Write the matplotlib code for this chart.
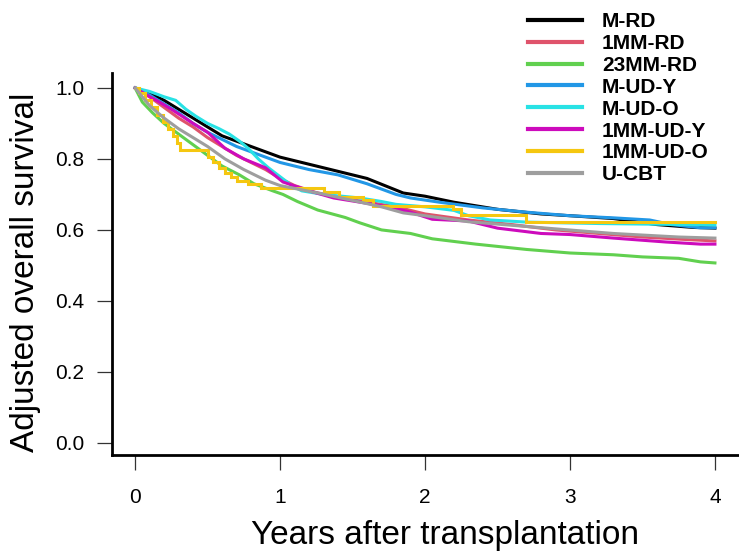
import matplotlib
matplotlib.use("Agg")

import matplotlib.pyplot as plt

# ── Data ───────────────────────────────────────────────────────────────────
groups = ["M-RD", "1MM-RD", "23MM-RD", "M-UD-Y", "M-UD-O",
          "1MM-UD-Y", "1MM-UD-O", "U-CBT"]
colors = ["#000000", "#DF536B", "#61D04F", "#2297E6", "#28E2E5",
          "#CD0BBC", "#F5C710", "#9E9E9E"]

t_mrd = [0, 0.1, 0.2, 0.3, 0.4, 0.5, 0.6, 0.7, 0.8, 0.9, 1.0, 1.2, 1.4, 1.6,
         1.85, 2.0, 2.2, 2.5, 2.8, 3.0, 3.3, 3.6, 3.85, 4.0]
s_mrd = [1.0, 0.985, 0.965, 0.94, 0.915, 0.89, 0.865, 0.85, 0.835, 0.82, 0.805,
         0.785, 0.765, 0.745, 0.704, 0.695, 0.678, 0.658, 0.645, 0.64, 0.632,
         0.615, 0.607, 0.605]

t_1mmrd = [0, 0.1, 0.2, 0.3, 0.4, 0.5, 0.6, 0.7, 0.8, 0.9, 1.0, 1.1, 1.25,
           1.5, 1.8, 2.0, 2.3, 2.6, 2.9, 3.2, 3.5, 3.8, 4.0]
s_1mmrd = [1.0, 0.975, 0.945, 0.915, 0.89, 0.86, 0.835, 0.81, 0.79, 0.77,
           0.745, 0.725, 0.705, 0.685, 0.665, 0.645, 0.628, 0.615, 0.60, 0.59,
           0.58, 0.573, 0.569]

t_23mm = [0, 0.05, 0.12, 0.2, 0.3, 0.4, 0.5, 0.6, 0.72, 0.82, 0.95, 1.02,
          1.12, 1.26, 1.45, 1.55, 1.7, 1.9, 2.05, 2.35, 2.7, 3.0, 3.3, 3.5,
          3.75, 3.9, 4.0]
s_23mm = [1.0, 0.96, 0.93, 0.9, 0.87, 0.84, 0.81, 0.78, 0.755, 0.73, 0.71,
          0.70, 0.68, 0.656, 0.635, 0.62, 0.60, 0.59, 0.575, 0.56, 0.545,
          0.535, 0.53, 0.524, 0.52, 0.51, 0.507]

t_mudy = [0, 0.1, 0.2, 0.3, 0.4, 0.5, 0.6, 0.7, 0.8, 0.9, 1.0, 1.2, 1.4, 1.6,
          1.8, 1.9, 2.1, 2.4, 2.7, 3.0, 3.3, 3.55, 3.7, 3.9, 4.0]
s_mudy = [1.0, 0.98, 0.955, 0.93, 0.9, 0.875, 0.855, 0.835, 0.82, 0.805, 0.79,
          0.77, 0.755, 0.73, 0.70, 0.69, 0.678, 0.662, 0.65, 0.64, 0.634,
          0.628, 0.615, 0.606, 0.606]

t_mudo = [0, 0.05, 0.1, 0.2, 0.28, 0.35, 0.42, 0.5, 0.58, 0.65, 0.72, 0.78,
          0.85, 0.92, 1.0, 1.08, 1.15, 1.3, 1.55, 1.7, 1.8, 2.0, 2.2, 2.3,
          2.45, 2.7, 3.2, 3.6, 4.0]
s_mudo = [1.0, 0.995, 0.99, 0.975, 0.965, 0.94, 0.92, 0.9, 0.885, 0.87, 0.85,
          0.83, 0.80, 0.775, 0.75, 0.725, 0.71, 0.70, 0.69, 0.68, 0.672, 0.665,
          0.655, 0.64, 0.628, 0.622, 0.618, 0.616, 0.614]

t_1mmudy = [0, 0.08, 0.16, 0.25, 0.4, 0.5, 0.62, 0.75, 0.9, 1.02, 1.2, 1.37,
            1.6, 1.78, 1.9, 2.05, 2.3, 2.5, 2.8, 3.0, 3.3, 3.66, 3.9, 4.0]
s_1mmudy = [1.0, 0.98, 0.962, 0.94, 0.9, 0.875, 0.83, 0.80, 0.775, 0.735,
            0.71, 0.69, 0.675, 0.662, 0.65, 0.63, 0.625, 0.605, 0.59, 0.587,
            0.577, 0.566, 0.56, 0.56]

t_1mmudo = [0, 0.03, 0.07, 0.11, 0.15, 0.19, 0.23, 0.26, 0.29, 0.31, 0.5,
            0.54, 0.58, 0.62, 0.66, 0.7, 0.78, 0.87, 1.3, 1.41, 1.57, 1.64,
            2.19, 2.25, 2.7, 4.0]
s_1mmudo = [1.0, 0.985, 0.965, 0.945, 0.925, 0.905, 0.885, 0.865, 0.845,
            0.825, 0.805, 0.79, 0.775, 0.76, 0.748, 0.738, 0.728, 0.718,
            0.706, 0.694, 0.684, 0.668, 0.658, 0.643, 0.623, 0.623]

t_ucbt = [0, 0.05, 0.1, 0.2, 0.3, 0.4, 0.5, 0.62, 0.75, 0.9, 1.0, 1.26, 1.5,
          1.7, 1.85, 2.0, 2.3, 2.75, 2.9, 3.3, 3.75, 4.0]
s_ucbt = [1.0, 0.975, 0.95, 0.915, 0.885, 0.86, 0.835, 0.80, 0.77, 0.74,
          0.725, 0.704, 0.683, 0.665, 0.648, 0.64, 0.623, 0.608, 0.603, 0.59,
          0.58, 0.577]

times = [t_mrd, t_1mmrd, t_23mm, t_mudy, t_mudo, t_1mmudy, t_1mmudo, t_ucbt]
survs = [s_mrd, s_1mmrd, s_23mm, s_mudy, s_mudo, s_1mmudy, s_1mmudo, s_ucbt]
steps = [False, False, False, False, False, False, True, False]

x_ticks = [0, 1, 2, 3, 4]
y_ticks = [0.0, 0.2, 0.4, 0.6, 0.8, 1.0]

plt.rcParams["font.family"] = ["Liberation Sans", "DejaVu Sans"]

fig = plt.figure(figsize=(7.39, 5.53), dpi=100)
ax = fig.add_axes([0.1516, 0.1772, 0.8484, 0.6908])

for name, col, t, s, st in zip(groups, colors, times, survs, steps):
    ax.plot(t, s, color=col, linewidth=2.2, label=name,
            drawstyle="steps-post" if st else "default",
            solid_joinstyle="miter")

ax.set_xlim(-0.159, 4.166)
ax.set_ylim(-0.034, 1.042)

ax.spines["top"].set_visible(False)
ax.spines["right"].set_visible(False)
ax.spines["left"].set_linewidth(2.0)
ax.spines["bottom"].set_linewidth(2.0)

ax.set_xticks(x_ticks)
ax.set_xticklabels([str(v) for v in x_ticks])
ax.set_yticks(y_ticks)
ax.set_yticklabels([f"{v:.1f}" for v in y_ticks])
ax.tick_params(axis="x", direction="out", length=11, width=0.9,
               color="#333333", pad=13, labelsize=15)
ax.tick_params(axis="y", direction="out", length=11, width=0.9,
               color="#333333", pad=9, labelsize=15)

ax.set_xlabel("Years after transplantation", fontsize=24)
ax.set_ylabel("Adjusted overall survival", fontsize=24)
ax.xaxis.set_label_coords(0.531, -0.170)
ax.yaxis.set_label_coords(-0.113, 0.479)

leg = ax.legend(loc="upper left", bbox_to_anchor=(528 / 739, 1 - 12 / 553),
                bbox_transform=fig.transFigure, frameon=False,
                prop={"weight": "bold", "size": 15},
                handlelength=2.6, handletextpad=0.95, labelspacing=0.14,
                borderpad=0, borderaxespad=0)
for h in leg.legend_handles:
    h.set_linewidth(3.0)

fig.savefig("out.png", dpi=100, facecolor="white")
